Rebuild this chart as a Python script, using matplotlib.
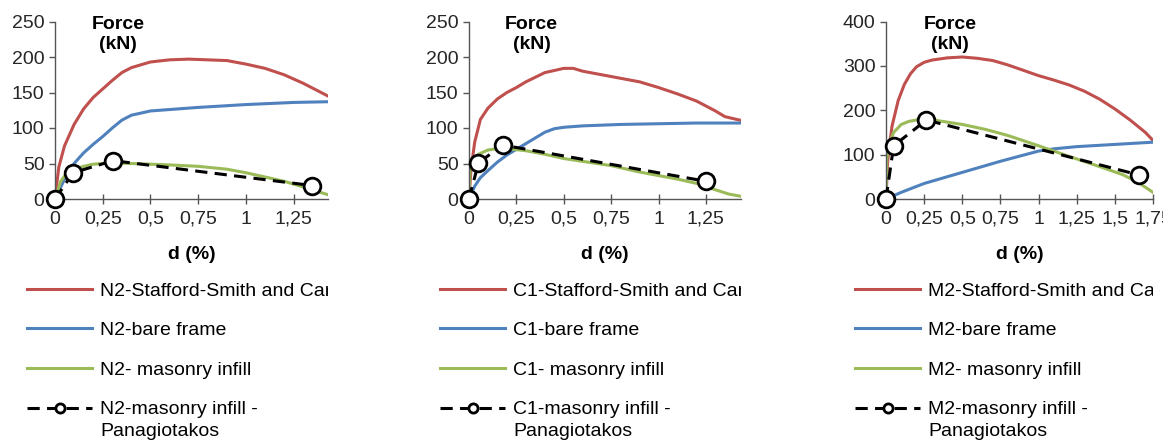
import matplotlib
matplotlib.use("Agg")
import matplotlib.pyplot as plt
from matplotlib.transforms import Bbox, TransformedBbox

plt.rcParams['font.family'] = ['Liberation Sans', 'DejaVu Sans']

RED = '#C0504D'
BLUE = '#4F81BD'
GREEN = '#9BBB59'

# ---- N2 ----
n2_red_x = [0, 0.02, 0.05, 0.1, 0.15, 0.2, 0.25, 0.3, 0.35, 0.4, 0.5, 0.6, 0.7, 0.8, 0.9, 1.0, 1.1, 1.2, 1.3, 1.43]
n2_red_y = [0, 45, 75, 105, 127, 143, 155, 167, 178, 185, 193, 196, 197, 196, 195, 190, 184, 175, 163, 145]
n2_blue_x = [0, 0.05, 0.1, 0.15, 0.2, 0.25, 0.3, 0.35, 0.4, 0.5, 0.6, 0.75, 1.0, 1.25, 1.43]
n2_blue_y = [0, 28, 50, 65, 77, 88, 100, 111, 118, 124, 126, 129, 133, 136, 137]
n2_green_x = [0, 0.03, 0.06, 0.1, 0.15, 0.2, 0.3, 0.4, 0.5, 0.6, 0.75, 0.9, 1.0, 1.1, 1.2, 1.3, 1.43]
n2_green_y = [0, 25, 36, 42, 46, 49, 51, 50, 49, 48, 46, 42, 37, 31, 25, 17, 6]
n2_pan_x = [0, 0.095, 0.305, 1.345]
n2_pan_y = [0, 37, 54, 19]

# ---- C1 ----
c1_red_x = [0, 0.01, 0.03, 0.06, 0.1, 0.15, 0.2, 0.25, 0.3, 0.4, 0.5, 0.55, 0.6, 0.7, 0.8, 0.9, 1.0, 1.1, 1.2, 1.3, 1.35, 1.43]
c1_red_y = [0, 40, 80, 112, 128, 141, 150, 157, 165, 178, 184, 184, 180, 175, 170, 165, 157, 148, 138, 124, 116, 111]
c1_blue_x = [0, 0.03, 0.06, 0.1, 0.15, 0.2, 0.25, 0.3, 0.35, 0.4, 0.45, 0.5, 0.6, 0.8, 1.0, 1.2, 1.43]
c1_blue_y = [0, 18, 30, 40, 52, 62, 70, 78, 86, 94, 99, 101, 103, 105, 106, 107, 107]
c1_green_x = [0, 0.005, 0.02, 0.05, 0.1, 0.15, 0.2, 0.3, 0.4, 0.5, 0.6, 0.75, 0.9, 1.0, 1.1, 1.2, 1.3, 1.37, 1.43]
c1_green_y = [0, 40, 55, 63, 69, 71, 71, 68, 63, 57, 53, 47, 38, 33, 28, 22, 13, 7, 4]
c1_pan_x = [0, 0.05, 0.178, 1.25]
c1_pan_y = [0, 51, 76, 25]

# ---- M2 ----
m2_red_x = [0, 0.01, 0.02, 0.04, 0.08, 0.12, 0.16, 0.2, 0.25, 0.3, 0.4, 0.5, 0.6, 0.7, 0.8, 0.9, 1.0, 1.1, 1.2, 1.3, 1.4, 1.5, 1.6, 1.7, 1.75]
m2_red_y = [0, 80, 115, 165, 222, 258, 282, 298, 308, 313, 318, 320, 317, 312, 302, 290, 278, 268, 257, 243, 225, 203, 178, 150, 132]
m2_blue_x = [0, 0.1, 0.25, 0.5, 0.75, 1.0, 1.1, 1.25, 1.4, 1.5, 1.6, 1.75]
m2_blue_y = [0, 15, 35, 60, 85, 108, 113, 118, 121, 123, 125, 128]
m2_green_x = [0, 0.005, 0.02, 0.05, 0.1, 0.15, 0.2, 0.27, 0.35, 0.5, 0.65, 0.8, 1.0, 1.2, 1.4, 1.55, 1.65, 1.75]
m2_green_y = [0, 90, 125, 150, 168, 175, 178, 180, 176, 168, 157, 143, 120, 96, 73, 55, 38, 15]
m2_pan_x = [0, 0.05, 0.265, 1.66]
m2_pan_y = [0, 120, 178, 54]

panels = [
    dict(name='N2', red=(n2_red_x, n2_red_y), blue=(n2_blue_x, n2_blue_y),
         green=(n2_green_x, n2_green_y), pan=(n2_pan_x, n2_pan_y),
         xmax=1.43, ymax=250, xticks=[0, 0.25, 0.5, 0.75, 1, 1.25],
         yticks=[0, 50, 100, 150, 200, 250],
         left=55, width=273, force_x=0.23, leg_x=27),
    dict(name='C1', red=(c1_red_x, c1_red_y), blue=(c1_blue_x, c1_blue_y),
         green=(c1_green_x, c1_green_y), pan=(c1_pan_x, c1_pan_y),
         xmax=1.435, ymax=250, xticks=[0, 0.25, 0.5, 0.75, 1, 1.25],
         yticks=[0, 50, 100, 150, 200, 250],
         left=469, width=272, force_x=0.23, leg_x=440),
    dict(name='M2', red=(m2_red_x, m2_red_y), blue=(m2_blue_x, m2_blue_y),
         green=(m2_green_x, m2_green_y), pan=(m2_pan_x, m2_pan_y),
         xmax=1.75, ymax=400, xticks=[0, 0.25, 0.5, 0.75, 1, 1.25, 1.5, 1.75],
         yticks=[0, 100, 200, 300, 400],
         left=886, width=267, force_x=0.24, leg_x=855),
]

W, H = 1163, 441
fig = plt.figure(figsize=(W / 100, H / 100), dpi=100)

TXT = '#262626'
FS = 14

legends = []
for p in panels:
    ax = fig.add_axes([p['left'] / W, 1 - 199 / H, p['width'] / W, (199 - 21.5) / H])
    ax.plot(*p['red'], color=RED, lw=2.2, label=p['name'] + '-Stafford-Smith and Carter')
    ax.plot(*p['blue'], color=BLUE, lw=2.2, label=p['name'] + '-bare frame')
    ax.plot(*p['green'], color=GREEN, lw=2.2, label=p['name'] + '- masonry infill')
    ax.plot(*p['pan'], color='black', lw=2.2, ls=(0, (4, 2.4)),
            marker='o', ms=12, mfc='white', mec='black', mew=2,
            label=p['name'] + '-masonry infill -', clip_on=False, zorder=5)

    ax.set_xlim(0, p['xmax'])
    ax.set_ylim(0, p['ymax'])
    ax.set_xticks(p['xticks'])
    ax.set_xticklabels([('%g' % t).replace('.', ',') for t in p['xticks']])
    ax.set_yticks(p['yticks'])
    for s in ['top', 'right']:
        ax.spines[s].set_visible(False)
    for s in ['left', 'bottom']:
        ax.spines[s].set_color('#555555')
        ax.spines[s].set_linewidth(1.0)
    ax.tick_params(axis='x', direction='inout', length=7, width=1, color='#555555',
                   labelsize=FS, labelcolor=TXT, pad=5)
    ax.tick_params(axis='y', direction='out', length=4, width=1, color='#555555',
                   labelsize=FS, labelcolor=TXT, pad=3.5)

    ax.text(p['force_x'], 0.928, 'Force\n(kN)', transform=ax.transAxes, ha='center',
            va='center', fontsize=14, fontweight='bold', linespacing=1.2)
    ax.text(0.5, -0.31, 'd (%)', transform=ax.transAxes, ha='center', va='center',
            fontsize=14, fontweight='bold')

    leg = ax.legend(loc='upper left', bbox_to_anchor=(p['leg_x'] / W, 1 - 282 / H),
                    bbox_transform=fig.transFigure, frameon=False, fontsize=FS,
                    borderpad=0, borderaxespad=0, handlelength=3.35, handletextpad=0.42,
                    labelspacing=1.13, markerscale=0.55)
    clip = TransformedBbox(Bbox([[-0.5, -3], [1.0, 1.2]]), ax.transAxes)
    for t in leg.get_texts():
        t.set_clip_box(clip)
        t.set_clip_on(True)
    legends.append(leg)

# second line of the last legend label, placed under its first line
fig.canvas.draw()
for leg in legends:
    bb = leg.get_texts()[3].get_window_extent()
    fig.text(bb.x0 / W, (bb.y0 - 5) / H, 'Panagiotakos', ha='left', va='top',
             fontsize=FS, color='black')

fig.savefig('out.png', dpi=100)
